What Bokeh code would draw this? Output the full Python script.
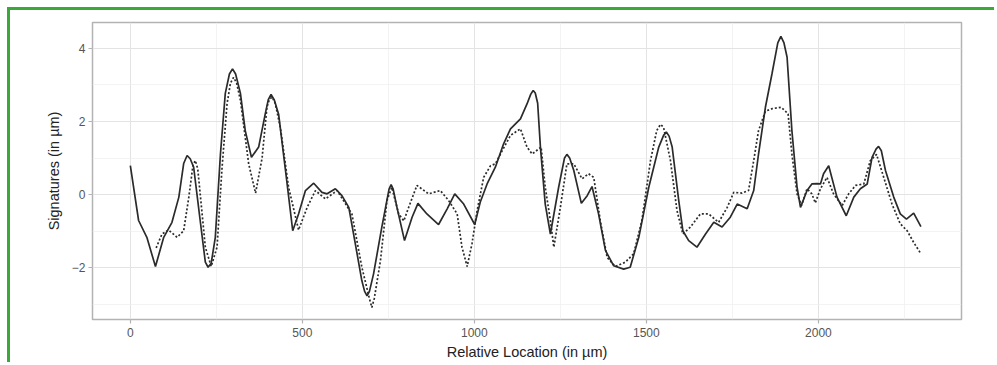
from bokeh.plotting import figure
from bokeh.models import Range1d, FixedTicker
from bokeh.embed import file_html
from bokeh.resources import INLINE

# ---- data ----
solid_x = [0, 24, 48, 73, 97, 121, 141, 155, 165, 174, 184, 203, 218, 226, 235, 247, 262, 276, 288,
           297, 306, 320, 334, 352, 373, 392, 401, 409, 418, 431, 451, 472, 489, 509, 533, 557, 572,
           596, 615, 635, 654, 673, 681, 688, 695, 707, 731, 752, 758, 764, 775, 797, 819, 836, 862,
           896, 921, 943, 969, 1001, 1017, 1037, 1061, 1085, 1105, 1134, 1153, 1164, 1171, 1177,
           1184, 1192, 1206, 1221, 1245, 1262, 1269, 1277, 1289, 1311, 1328, 1342, 1361, 1381, 1405,
           1434, 1453, 1478, 1507, 1536, 1550, 1558, 1566, 1575, 1594, 1606, 1623, 1647, 1672, 1696,
           1720, 1744, 1764, 1793, 1812, 1826, 1846, 1865, 1882, 1891, 1900, 1909, 1923, 1938, 1948,
           1967, 1981, 1996, 2006, 2015, 2030, 2054, 2081, 2103, 2122, 2142, 2156, 2168, 2175, 2183,
           2195, 2219, 2238, 2256, 2277, 2298]
solid_y = [0.79, -0.71, -1.17, -1.97, -1.17, -0.76, -0.07, 0.85, 1.07, 0.98, 0.75, -0.71, -1.85,
           -1.99, -1.88, -1.17, 1.12, 2.77, 3.3, 3.44, 3.3, 2.77, 1.75, 1.02, 1.30, 2.2, 2.6, 2.74,
           2.6, 2.2, 0.66, -0.99, -0.53, 0.11, 0.31, 0.06, 0.02, 0.16, -0.03, -0.35, -1.35, -2.36,
           -2.65, -2.77, -2.65, -2.17, -0.89, 0.15, 0.27, 0.15, -0.35, -1.26, -0.62, -0.24, -0.53,
           -0.82, -0.39, 0.02, -0.26, -0.82, -0.21, 0.29, 0.75, 1.39, 1.8, 2.07, 2.48, 2.75, 2.85,
           2.78, 2.5, 1.3, -0.26, -1.08, 0.2, 1.0, 1.1, 1.0, 0.66, -0.24, -0.03, 0.22, -0.53, -1.53,
           -1.95, -2.04, -1.99, -1.17, 0.2, 1.3, 1.62, 1.71, 1.6, 1.3, -0.16, -0.99, -1.26, -1.44,
           -1.08, -0.76, -0.89, -0.62, -0.26, -0.39, 0.11, 1.11, 2.39, 3.3, 4.15, 4.33, 4.15, 3.76,
           1.75, 0.2, -0.35, 0.11, 0.29, 0.3, 0.29, 0.57, 0.79, -0.07, -0.58, -0.07, 0.16, 0.29,
           1.02, 1.25, 1.32, 1.2, 0.66, -0.07, -0.53, -0.67, -0.51, -0.88]

dotted_x = [75, 92, 111, 136, 155, 170, 182, 189, 196, 203, 218, 235, 252, 266, 281, 291, 300, 309,
            320, 344, 364, 383, 397, 404, 412, 421, 436, 460, 489, 514, 538, 567, 601, 644, 673, 695,
            702, 709, 727, 746, 760, 780, 795, 809, 833, 867, 901, 925, 950, 964, 979, 993, 1008,
            1027, 1047, 1061, 1081, 1105, 1134, 1153, 1168, 1187, 1194, 1206, 1221, 1231, 1250, 1269,
            1289, 1313, 1332, 1347, 1366, 1386, 1410, 1439, 1463, 1487, 1512, 1530, 1541, 1550, 1570,
            1589, 1606, 1628, 1657, 1681, 1710, 1735, 1754, 1778, 1797, 1812, 1826, 1846, 1865, 1892,
            1912, 1923, 1938, 1951, 1967, 1981, 1991, 2006, 2025, 2044, 2069, 2088, 2108, 2132, 2151,
            2169, 2190, 2214, 2238, 2258, 2277, 2298]
dotted_y = [-1.46, -1.08, -0.97, -1.17, -0.99, -0.07, 0.8, 0.93, 0.7, 0.02, -1.44, -1.97, -1.44,
            0.66, 2.48, 3.05, 3.21, 3.05, 2.58, 0.84, 0.04, 1.0, 2.39, 2.6, 2.67, 2.5, 1.84, 0.2,
            -0.97, -0.35, 0.11, -0.12, 0.11, -0.53, -1.99, -2.85, -3.09, -2.85, -1.81, -0.16, 0.2,
            -0.53, -0.72, -0.35, 0.25, 0.02, 0.11, -0.16, -0.53, -1.44, -1.97, -1.35, -0.44, 0.47,
            0.79, 0.84, 1.2, 1.62, 1.8, 1.3, 1.11, 1.25, 1.3, 0.2, -0.71, -1.44, -0.35, 0.84, 0.84,
            0.43, 0.57, 0.47, -0.71, -1.72, -1.97, -1.85, -1.62, -0.71, 0.93, 1.75, 1.92, 1.84, 0.93,
            -0.44, -1.08, -0.89, -0.53, -0.53, -0.76, -0.35, 0.06, 0.04, 0.11, 0.93, 1.75, 2.28,
            2.35, 2.39, 2.21, 1.11, 0.02, -0.3, 0.16, 0.02, -0.23, 0.16, 0.47, 0.02, -0.3, 0.02,
            0.25, 0.29, 0.93, 1.1, 0.47, -0.26, -0.8, -0.99, -1.31, -1.62]

x_ticks = [0, 500, 1000, 1500, 2000]
x_minor = [250, 750, 1250, 1750, 2250]
y_ticks = [-2, 0, 2, 4]
y_minor = [-3, -1, 1, 3]

FONT = "Liberation Sans"

p = figure(width=987, height=355,
           x_range=Range1d(-110, 2416), y_range=Range1d(-3.42, 4.71),
           output_backend="svg", toolbar_location=None,
           min_border_left=82, min_border_top=12, min_border_right=36, min_border_bottom=46)

p.styles = {"border-top": "3px solid #3aa83a", "border-left": "3px solid #3aa83a",
            "margin-left": "7px", "margin-top": "7px"}

p.background_fill_color = "white"
p.border_fill_color = "white"
p.outline_line_color = "#b3b3b3"
p.outline_line_width = 1.5

p.xaxis.ticker = FixedTicker(ticks=x_ticks, minor_ticks=x_minor)
p.yaxis.ticker = FixedTicker(ticks=y_ticks, minor_ticks=y_minor)

for g in (p.xgrid, p.ygrid):
    g.grid_line_color = "#e3e3e3"
    g.grid_line_width = 1
    g.minor_grid_line_color = "#eeeeee"
    g.minor_grid_line_width = 0.7

for ax in (p.xaxis, p.yaxis):
    ax.axis_line_color = None
    ax.major_tick_line_color = "#b3b3b3"
    ax.major_tick_line_width = 1.2
    ax.major_tick_out = 4
    ax.major_tick_in = 0
    ax.minor_tick_line_color = None
    ax.major_label_text_font = FONT
    ax.major_label_text_font_size = "12px"
    ax.major_label_text_color = "#555555"
    ax.axis_label_text_font = FONT
    ax.axis_label_text_font_size = "14.5px"
    ax.axis_label_text_font_style = "normal"
    ax.axis_label_text_color = "#222222"

p.xaxis.axis_label = "Relative Location (in µm)"
p.yaxis.axis_label = "Signatures (in µm)"
p.xaxis.major_label_standoff = 4
p.xaxis.axis_label_standoff = 4
p.yaxis.major_label_standoff = 3
p.yaxis.axis_label_standoff = 7

p.line(solid_x, solid_y, line_color="#2b2b2b", line_width=1.7)
p.line(dotted_x, dotted_y, line_color="#2b2b2b", line_width=1.7, line_dash="2 2")

open("out.html", "w").write(file_html(p, INLINE))
